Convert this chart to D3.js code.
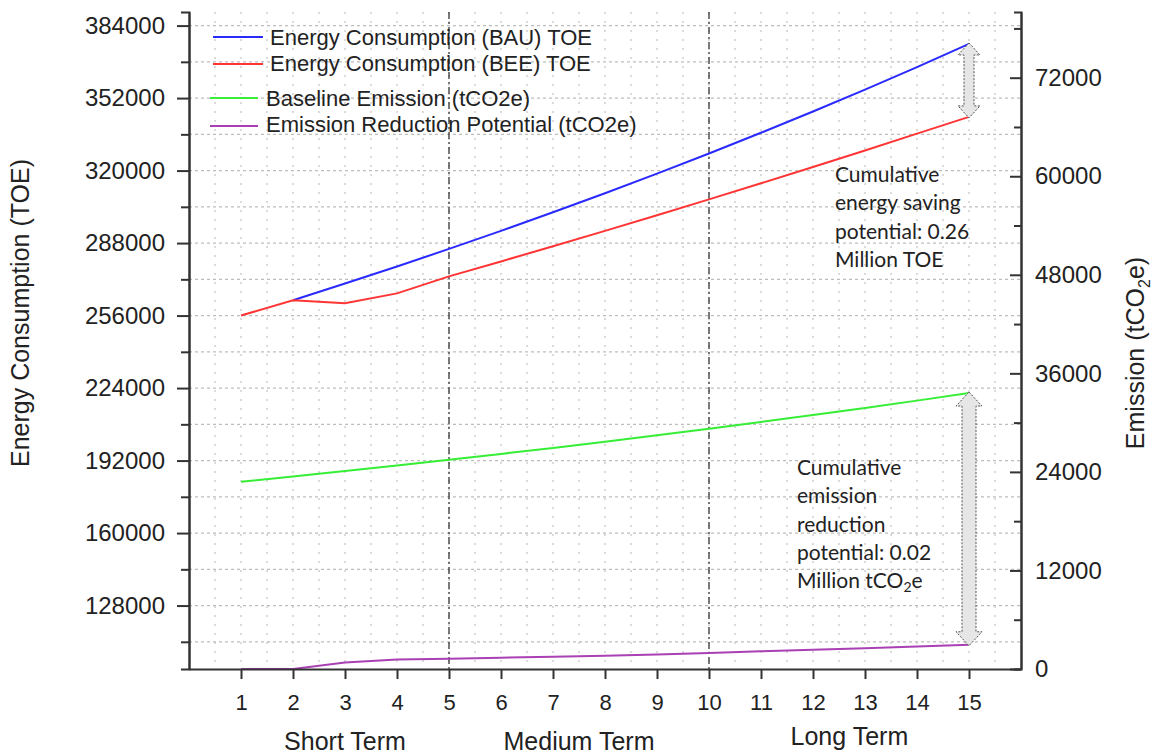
<!DOCTYPE html>
<html>
<head>
<meta charset="utf-8">
<script src="https://cdn.jsdelivr.net/npm/d3@7"></script>
<style>
  body { margin: 0; background: #fff; }
  text { fill: #222; }
</style>
</head>
<body>
<div id="wrapper"></div>
<script>
// data
const years = [1, 2, 3, 4, 5, 6, 7, 8, 9, 10, 11, 12, 13, 14, 15]
const bau = [256000, 262800, 270140, 277680, 285430, 293400, 301590, 310010, 318660, 327560, 336700, 346100, 355760, 365690, 375900]
const bee = [256000, 262800, 261400, 265800, 273300, 279900, 286600, 293400, 300300, 307300, 314400, 321600, 328900, 336300, 343700]
const baseline = [22800, 23440, 24100, 24780, 25470, 26190, 26920, 27680, 28460, 29260, 30080, 30920, 31790, 32680, 33600]
const reduction = [0, 0, 780, 1170, 1260, 1380, 1500, 1600, 1780, 1960, 2150, 2340, 2540, 2740, 2950]

const leftTicks = [128000, 160000, 192000, 224000, 256000, 288000, 320000, 352000, 384000]
const rightTicks = [0, 12000, 24000, 36000, 48000, 60000, 72000]
const termLabels = [
  { label: "Short Term", at: 3 },
  { label: "Medium Term", at: 7.5 },
  { label: "Long Term", at: 12.7 }
]
const legendItems = [
  { name: "Energy Consumption (BAU) TOE", color: "#2a2aff" },
  { name: "Energy Consumption (BEE) TOE", color: "#ff3535" },
  { name: "Baseline Emission (tCO2e)", color: "#35ee35" },
  { name: "Emission Reduction Potential (tCO2e)", color: "#a940b4" }
]

const width = 1155
const height = 754
const plot = { left: 189, right: 1021, top: 12, bottom: 669 }

const svg = d3.select("#wrapper")
  .append("svg")
  .attr("width", width)
  .attr("height", height)

// scales
const xScale = d3.scaleLinear().domain([0, 16]).range([plot.left, plot.right])
const yLeft = d3.scaleLinear().domain([100000, 390000]).range([plot.bottom, plot.top])
const yRight = d3.scaleLinear().domain([0, 80000]).range([plot.bottom, plot.top])

// grid
const grid = svg.append("g")
grid.selectAll(".hg")
  .data(d3.range(112000, 390000, 16000))
  .join("line")
  .attr("x1", plot.left).attr("x2", plot.right)
  .attr("y1", d => yLeft(d)).attr("y2", d => yLeft(d))
  .attr("stroke", "#bdbdbd").attr("stroke-width", 1.2)
  .attr("stroke-dasharray", "3,3")
grid.selectAll(".vg")
  .data(d3.range(0.5, 16, 0.5))
  .join("line")
  .attr("x1", d => xScale(d)).attr("x2", d => xScale(d))
  .attr("y1", plot.top).attr("y2", plot.bottom)
  .attr("stroke", "#c4c4c4").attr("stroke-width", 1.2)
  .attr("stroke-dasharray", "2,7")

// term dividers
svg.selectAll(".divider")
  .data([5, 10])
  .join("line")
  .attr("x1", d => xScale(d)).attr("x2", d => xScale(d))
  .attr("y1", plot.top).attr("y2", plot.bottom)
  .attr("stroke", "#333").attr("stroke-width", 1.3)
  .attr("stroke-dasharray", "7,3,2,3")

// lines
const rows = years.map((yr, i) => ({ x: yr, bau: bau[i], bee: bee[i], base: baseline[i], red: reduction[i] }))
const seriesDefs = [
  { key: "bau", scale: yLeft, color: legendItems[0].color, from: 1 },
  { key: "bee", scale: yLeft, color: legendItems[1].color, from: 0 },
  { key: "base", scale: yRight, color: legendItems[2].color, from: 0 },
  { key: "red", scale: yRight, color: legendItems[3].color, from: 0 }
]
seriesDefs.forEach(s => {
  const gen = d3.line().x(d => xScale(d.x)).y(d => s.scale(d[s.key]))
  svg.append("path")
    .attr("d", gen(rows.slice(s.from)))
    .attr("fill", "none")
    .attr("stroke", s.color)
    .attr("stroke-width", 2)
})

// double headed arrows
function arrow(x, y1, y2, sw, hw, hl) {
  const p = d3.path()
  p.moveTo(x, y1)
  p.lineTo(x + hw, y1 + hl); p.lineTo(x + sw, y1 + hl)
  p.lineTo(x + sw, y2 - hl); p.lineTo(x + hw, y2 - hl)
  p.lineTo(x, y2)
  p.lineTo(x - hw, y2 - hl); p.lineTo(x - sw, y2 - hl)
  p.lineTo(x - sw, y1 + hl); p.lineTo(x - hw, y1 + hl)
  p.closePath()
  return p.toString()
}
const last = years.length - 1
svg.append("path")
  .attr("d", arrow(xScale(years[last]), yLeft(bau[last]) - 1, yLeft(bee[last]) + 1, 5, 11, 12))
  .attr("fill", "#e6e6e6").attr("stroke", "#555").attr("stroke-width", 1)
  .attr("stroke-dasharray", "2,1.5")
svg.append("path")
  .attr("d", arrow(xScale(years[last]), yRight(baseline[last]) - 1, yRight(reduction[last]) + 1, 7, 13, 14))
  .attr("fill", "#e6e6e6").attr("stroke", "#555").attr("stroke-width", 1)
  .attr("stroke-dasharray", "2,1.5")

// axes
const font = "'Liberation Sans', Arial, sans-serif"
function styleAxis(g, size) {
  g.select(".domain").attr("stroke", "#333").attr("stroke-width", 2)
  g.selectAll(".tick line").attr("stroke", "#333").attr("stroke-width", 2)
  g.selectAll("text").attr("font-family", font).attr("font-size", size).attr("fill", "#222")
}

const leftMinor = svg.append("g")
  .attr("transform", `translate(${plot.left},0)`)
  .call(d3.axisLeft(yLeft).tickValues(d3.range(112000, 390000, 32000)).tickSize(8).tickFormat(""))
styleAxis(leftMinor, 24)
const leftAxis = svg.append("g")
  .attr("transform", `translate(${plot.left},0)`)
  .call(d3.axisLeft(yLeft).tickValues(leftTicks).tickSize(12).tickSizeOuter(0).tickPadding(12).tickFormat(d3.format("d")))
styleAxis(leftAxis, 24)

const rightMinor = svg.append("g")
  .attr("transform", `translate(${plot.right},0)`)
  .call(d3.axisRight(yRight).tickValues(d3.range(6000, 80000, 12000)).tickSize(-7).tickFormat(""))
styleAxis(rightMinor, 24)
const rightAxis = svg.append("g")
  .attr("transform", `translate(${plot.right},0)`)
  .call(d3.axisRight(yRight).tickValues(rightTicks).tickSize(-11).tickSizeOuter(0).tickPadding(14).tickFormat(d3.format("d")))
styleAxis(rightAxis, 24)

const xAxis = svg.append("g")
  .attr("transform", `translate(0,${plot.bottom})`)
  .call(d3.axisBottom(xScale).tickValues(years).tickSize(10).tickSizeOuter(0).tickPadding(15))
styleAxis(xAxis, 22)

// term labels
svg.selectAll(".term")
  .data(termLabels)
  .join("text")
  .attr("x", d => xScale(d.at))
  .attr("y", (d, i) => i === 2 ? 745 : 750)
  .attr("text-anchor", "middle")
  .attr("font-family", font).attr("font-size", 25)
  .text(d => d.label)

// axis titles
svg.append("text")
  .attr("transform", "translate(29,313) rotate(-90)")
  .attr("text-anchor", "middle")
  .attr("font-family", font).attr("font-size", 25)
  .text("Energy Consumption (TOE)")
const rt = svg.append("text")
  .attr("transform", "translate(1144,353) rotate(-90)")
  .attr("text-anchor", "middle")
  .attr("font-family", font).attr("font-size", 25)
rt.append("tspan").text("Emission (tCO")
rt.append("tspan").attr("dy", 6).attr("font-size", 16).text("2")
rt.append("tspan").attr("dy", -6).text("e)")

// legend
const legendRows = [
  { lineY: 37, textY: 45, x1: 213, x2: 263, tx: 270 },
  { lineY: 64, textY: 71, x1: 213, x2: 263, tx: 270 },
  { lineY: 98, textY: 106, x1: 210, x2: 258, tx: 266 },
  { lineY: 126, textY: 132, x1: 210, x2: 258, tx: 266 }
]
const legend = svg.append("g")
legendItems.forEach((item, i) => {
  const r = legendRows[i]
  legend.append("line")
    .attr("x1", r.x1).attr("x2", r.x2).attr("y1", r.lineY).attr("y2", r.lineY)
    .attr("stroke", item.color).attr("stroke-width", 2)
  legend.append("text")
    .attr("x", r.tx).attr("y", r.textY)
    .attr("font-family", font).attr("font-size", 22)
    .text(item.name)
})

// annotations
const noteFont = "Lato, 'Open Sans', sans-serif"
const note1 = ["Cumulative", "energy saving", "potential: 0.26", "Million TOE"]
svg.append("g").selectAll("text")
  .data(note1)
  .join("text")
  .attr("x", 835).attr("y", (d, i) => 182 + i * 28.3)
  .attr("font-family", noteFont).attr("font-size", 21)
  .text(d => d)
const note2 = ["Cumulative", "emission", "reduction", "potential: 0.02"]
const n2 = svg.append("g")
n2.selectAll("text")
  .data(note2)
  .join("text")
  .attr("x", 797).attr("y", (d, i) => 475 + i * 28.3)
  .attr("font-family", noteFont).attr("font-size", 21)
  .text(d => d)
const lastLine = n2.append("text")
  .attr("x", 797).attr("y", 475 + 4 * 28.3)
  .attr("font-family", noteFont).attr("font-size", 21)
lastLine.append("tspan").text("Million tCO")
lastLine.append("tspan").attr("dy", 4).attr("font-size", 14).text("2")
lastLine.append("tspan").attr("dy", -4).text("e")
</script>
</body>
</html>
